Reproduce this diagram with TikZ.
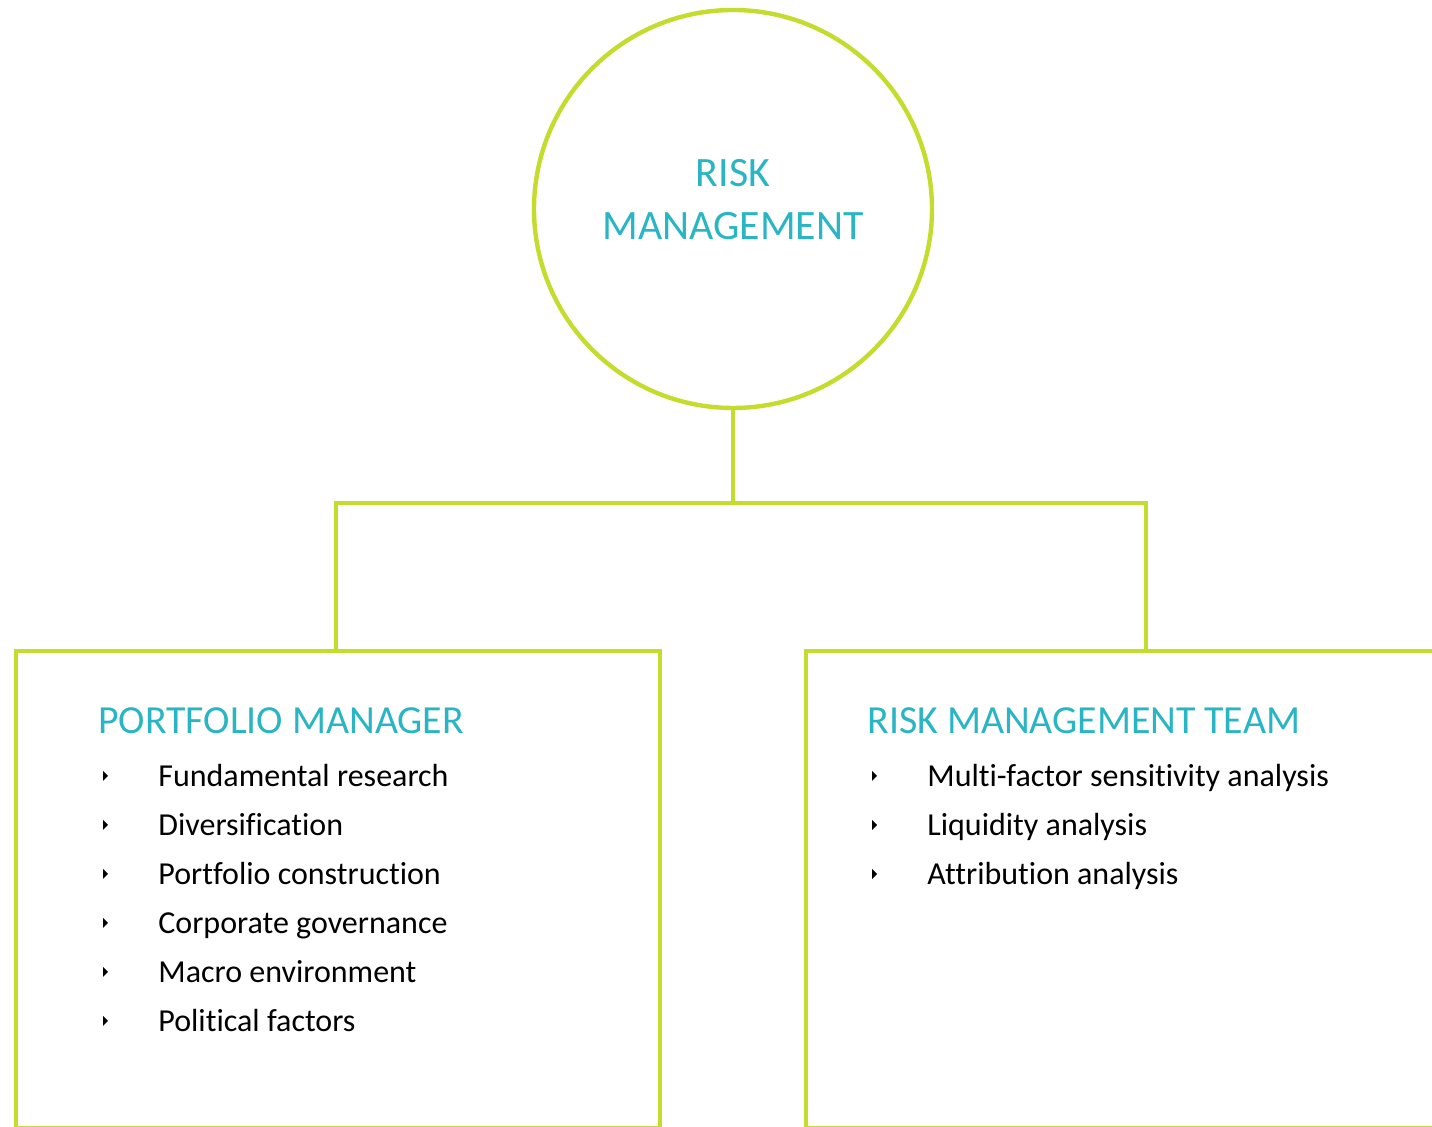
\documentclass[tikz,border=0pt]{standalone}
\usepackage{fontspec}
\setmainfont[Ligatures=NoCommon]{Carlito}
\definecolor{lime}{HTML}{C3DC2E}
\definecolor{teal}{HTML}{29B5C3}
\begin{document}
\begin{tikzpicture}[x=0.5pt,y=-0.5pt,
  frame/.style={draw=lime,line width=2.2pt},
  head/.style={anchor=base west,inner sep=0pt,text=teal,font=\fontsize{19.9}{23}\selectfont},
  item/.style={anchor=base west,inner sep=0pt,font=\fontsize{16}{19}\selectfont},
  ctext/.style={anchor=base,inner sep=0pt,text=teal,font=\fontsize{20.9}{24}\selectfont}]
\useasboundingbox (0,0) rectangle (1432,1127);
\clip (0,0) rectangle (1432,1127);
\node[frame,circle,inner sep=0pt,minimum size=199pt] (c) at (733,209) {};
\node[ctext] (t1) at (733,187) {RISK};
\node[ctext] (t2) at (733,240) {MANAGEMENT};
\coordinate (j) at (733,503);
\coordinate (jl) at (336,503);
\coordinate (jr) at (1146,503);
\draw[frame] (16,651) rectangle (660,1128);
\draw[frame] (806,651) rectangle (1440,1128);
\coordinate (lt) at (336,651);
\coordinate (rt) at (1146,651);
\draw[frame] (c.south) -- (j);
\draw[frame,line join=miter] (lt) -- (jl) -- (jr) -- (rt);
\node[head] (ph) at (98,734) {PORTFOLIO MANAGER};
\node[head] (rh) at (867,734) {RISK MANAGEMENT TEAM};
\newcommand\bul[2]{\fill (#1,#2-16) -- ++(5,5) -- ++(-5,5) -- cycle;}
\foreach \t [count=\i] in {Fundamental research,Diversification,Portfolio construction,Corporate governance,Macro environment,Political factors}{
  \node[item] (p\i) at (158,738+49*\i) {\t};
  \bul{103}{738+49*\i}
}
\foreach \t [count=\i] in {Multi-factor sensitivity analysis,Liquidity analysis,Attribution analysis}{
  \node[item] (r\i) at (927,738+49*\i) {\t};
  \bul{872}{738+49*\i}
}
\end{tikzpicture}
\end{document}
